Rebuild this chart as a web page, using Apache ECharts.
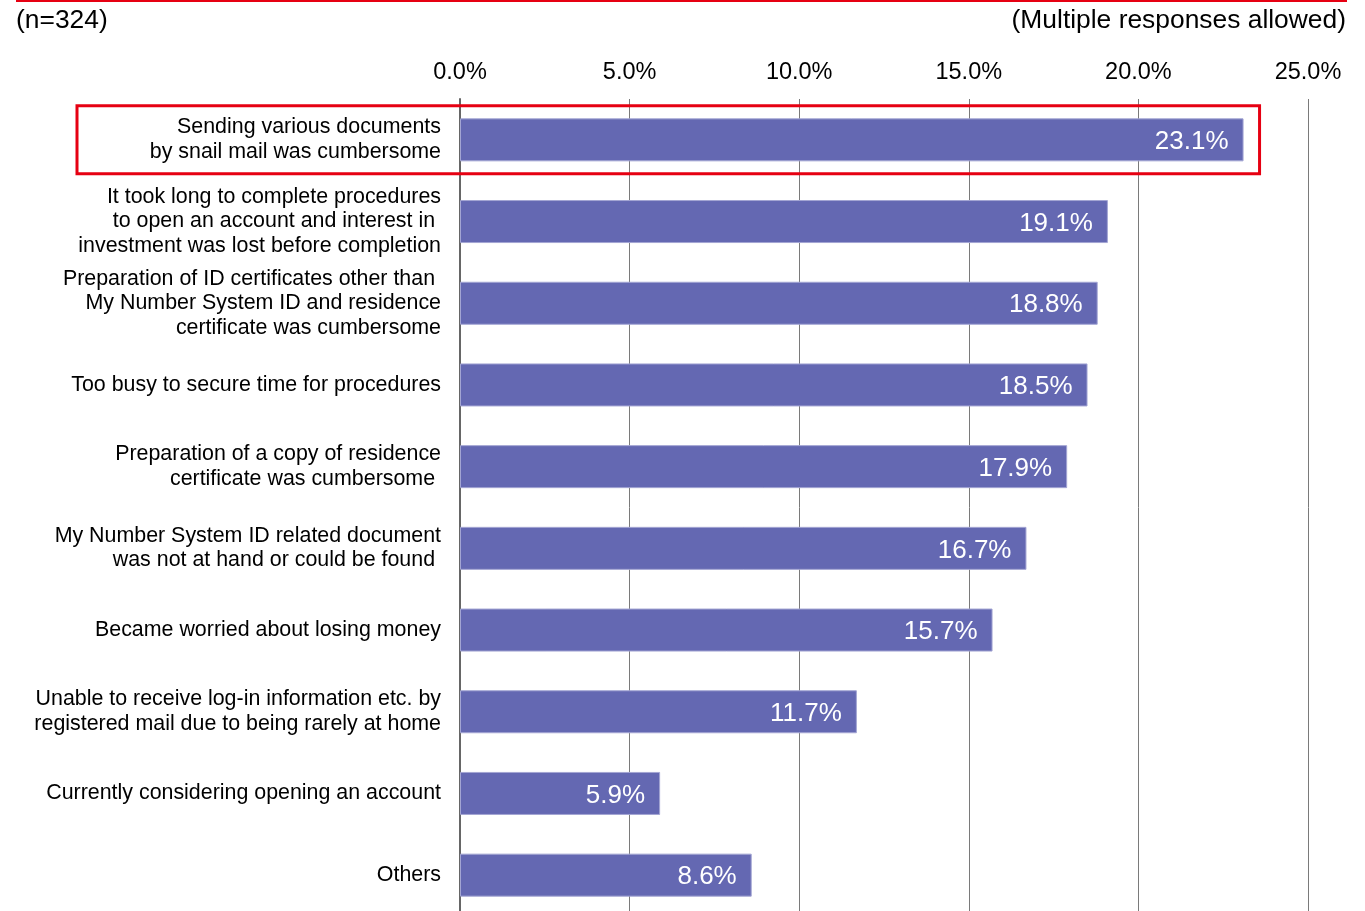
<!DOCTYPE html>
<html>
<head>
<meta charset="utf-8">
<script src="https://cdn.jsdelivr.net/npm/echarts@6/dist/echarts.min.js"></script>
<style>
html,body{margin:0;padding:0;background:#fff;overflow:hidden;}
#chart{width:1365px;height:916px;}
</style>
</head>
<body>
<div id="chart"></div>
<script>
var categories = [
  "Sending various documents\nby snail mail was cumbersome",
  "It took long to complete procedures\nto open an account and interest in \ninvestment was lost before completion",
  "Preparation of ID certificates other than \nMy Number System ID and residence\ncertificate was cumbersome",
  "Too busy to secure time for procedures",
  "Preparation of a copy of residence\ncertificate was cumbersome ",
  "My Number System ID related document\nwas not at hand or could be found ",
  "Became worried about losing money",
  "Unable to receive log-in information etc. by\nregistered mail due to being rarely at home",
  "Currently considering opening an account",
  "Others"
];
var values = [23.1, 19.1, 18.8, 18.5, 17.9, 16.7, 15.7, 11.7, 5.9, 8.6];
var tickValues = [0, 5, 10, 15, 20, 25];
var sampleNote = "(n=324)";
var responseNote = "(Multiple responses allowed)";
var highlightIndex = 0;

var FONT = "'Liberation Sans', Arial, sans-serif";
var chart = echarts.init(document.getElementById('chart'));
var option = {
  animation: false,
  backgroundColor: '#fff',
  textStyle: { fontFamily: FONT },
  grid: { left: 460, right: 57, top: 99, bottom: 0, containLabel: false },
  xAxis: {
    type: 'value',
    position: 'top',
    min: tickValues[0],
    max: tickValues[tickValues.length - 1],
    interval: tickValues[1] - tickValues[0],
    axisLine: { show: false },
    axisTick: { show: false },
    axisLabel: {
      fontSize: 23.5, color: '#000', margin: 14, fontFamily: FONT,
      formatter: function (v) { return v.toFixed(1) + '%'; }
    },
    splitLine: { show: true, lineStyle: { color: '#7a7a7a', width: 1 } }
  },
  yAxis: {
    type: 'category',
    inverse: true,
    data: categories,
    axisTick: { show: false },
    axisLine: { show: true, lineStyle: { color: '#666', width: 2 } },
    axisLabel: { fontSize: 21.4, color: '#000', margin: 19, lineHeight: 24.5, fontFamily: FONT, align: 'right', padding: [3, 0, 0, 0] }
  },
  series: [{
    type: 'bar',
    data: values,
    barWidth: 43,
    itemStyle: { color: '#6468b2', borderColor: '#a3a5d3', borderWidth: 1 },
    label: {
      show: true, position: 'insideRight', distance: 15, offset: [0, 2],
      color: '#fff', fontSize: 26, fontFamily: FONT,
      formatter: function (p) { return p.value.toFixed(1) + '%'; }
    }
  }]
};
chart.setOption(option);

var cy = chart.convertToPixel({ yAxisIndex: 0 }, highlightIndex);
var xEnd = chart.convertToPixel({ xAxisIndex: 0 }, values[highlightIndex]);
chart.setOption({
  graphic: [
    { type: 'line', shape: { x1: 16, y1: 1, x2: 1347, y2: 1 }, style: { stroke: '#e60012', lineWidth: 2 } },
    { type: 'text', left: 16, top: 8, style: { text: sampleNote, fontSize: 26.4, fill: '#000', fontFamily: FONT } },
    { type: 'text', right: 19, top: 8, style: { text: responseNote, fontSize: 26.4, fill: '#000', fontFamily: FONT } },
    { type: 'rect', z: 100,
      shape: { x: 77, y: cy - 34, width: xEnd + 16 - 77, height: 68 },
      style: { fill: 'none', stroke: '#e60012', lineWidth: 3 } }
  ]
});
</script>
</body>
</html>
